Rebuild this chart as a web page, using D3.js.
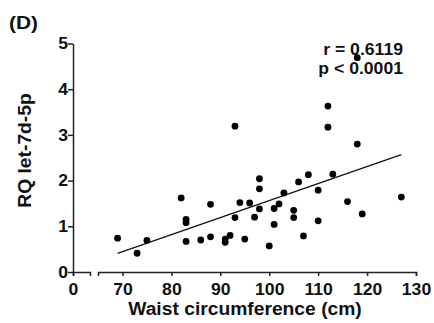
<!DOCTYPE html>
<html>
<head>
<meta charset="utf-8">
<script src="https://cdn.jsdelivr.net/npm/d3@7"></script>
<style>
  body { margin: 0; background: #fff; }
  svg { display: block; font-family: "Liberation Sans", Arial, sans-serif; }
  .axis path, .axis line { stroke: #222; stroke-width: 1.5; }
  .axis text { font-size: 16px; font-weight: bold; fill: #111; }
  .lab { font-size: 17.5px; font-weight: bold; fill: #111; }
</style>
</head>
<body>
<div id="plot"></div>
<script>
const w = 434,
      h = 323,
      stretch = 1.1   // the original glyphs are a bit wider than Arial

// waist circumference (cm) and RQ let-7d-5p
const waist = [69, 73, 75, 82, 83, 83, 83, 86, 88, 88, 91, 91, 92, 93, 94, 95, 96, 97,
               98, 98, 98, 100, 101, 101, 102, 103, 105, 105, 106, 107, 108, 110, 110,
               113, 116, 119, 127, 93, 112, 112, 118, 118]
const rq = [0.74, 0.41, 0.69, 1.62, 1.15, 1.08, 0.67, 0.70, 1.48, 0.77, 0.72, 0.65, 0.80,
            1.19, 1.52, 0.72, 1.51, 1.20, 2.04, 1.82, 1.38, 0.57, 1.39, 1.04, 1.49, 1.73,
            1.35, 1.19, 1.97, 0.79, 2.13, 1.79, 1.12, 2.14, 1.54, 1.27, 1.64, 3.19, 3.63,
            3.17, 2.80, 4.69]
// fitted line ends
const fitX = [69, 127],
      fitY = [0.41, 2.57]
const xTicks = [70, 80, 90, 100, 110, 120, 130],
      yTicks = [0, 1, 2, 3, 4, 5]

const svg = d3.select("#plot").append("svg")
  .attr("width", w)
  .attr("height", h)

// broken x axis: a short piece at 0, then 65-130
const xLow = d3.scaleLinear().domain([0, 1]).range([73, 90]),
      x = d3.scaleLinear().domain([65, 130]).range([98, 416]),
      y = d3.scaleLinear().domain([0, 5]).range([272, 43.5])

svg.append("g")
  .attr("class", "axis")
  .attr("transform", `translate(0, ${y(0)})`)
  .call(d3.axisBottom(xLow).tickValues([0]).tickFormat(d3.format("d")).tickSize(4).tickPadding(7.5))

svg.append("g")
  .attr("class", "axis")
  .attr("transform", `translate(0, ${y(0)})`)
  .call(d3.axisBottom(x).tickValues(xTicks).tickFormat(d3.format("d")).tickSize(4).tickPadding(7.5))

svg.append("g")
  .attr("class", "axis")
  .attr("transform", `translate(${xLow(0)}, 0)`)
  .call(d3.axisLeft(y).tickValues(yTicks).tickFormat(d3.format("d")).tickSize(5).tickSizeOuter(0).tickPadding(0))

svg.selectAll(".axis .domain").attr("fill", "none")

// regression line
svg.append("path")
  .datum(d3.zip(fitX, fitY))
  .attr("fill", "none")
  .attr("stroke", "#111")
  .attr("stroke-width", 1.3)
  .attr("d", d3.line()
    .x(function(d) { return x(d[0]) })
    .y(function(d) { return y(d[1]) }))

svg.append("g")
  .selectAll("circle")
  .data(d3.zip(waist, rq))
  .join("circle")
    .attr("cx", function(d) { return x(d[0]) })
    .attr("cy", function(d) { return y(d[1]) })
    .attr("r", 3.4)
    .attr("fill", "#000")

// labels
svg.append("text")
  .attr("class", "lab")
  .attr("x", 9)
  .attr("y", 29)
  .style("font-size", "19px")
  .text("(D)")

svg.append("text")
  .attr("class", "lab")
  .attr("x", 245)
  .attr("y", 315)
  .style("text-anchor", "middle")
  .text("Waist circumference (cm)")

svg.append("text")
  .attr("class", "lab")
  .attr("transform", "rotate(-90)")
  .attr("x", -150.5)
  .attr("y", 31)
  .style("text-anchor", "middle")
  .text("RQ let-7d-5p")

svg.append("text")
  .attr("class", "lab")
  .attr("x", 403)
  .attr("y", 55)
  .style("text-anchor", "end")
  .style("font-size", "16px")
  .text("r = 0.6119")

svg.append("text")
  .attr("class", "lab")
  .attr("x", 403)
  .attr("y", 74)
  .style("text-anchor", "end")
  .style("font-size", "16px")
  .text("p < 0.0001")

// widen every label a little
svg.selectAll("text").each(function() {
  const len = this.getComputedTextLength()
  d3.select(this)
    .attr("textLength", len * stretch)
    .attr("lengthAdjust", "spacingAndGlyphs")
})
</script>
</body>
</html>
